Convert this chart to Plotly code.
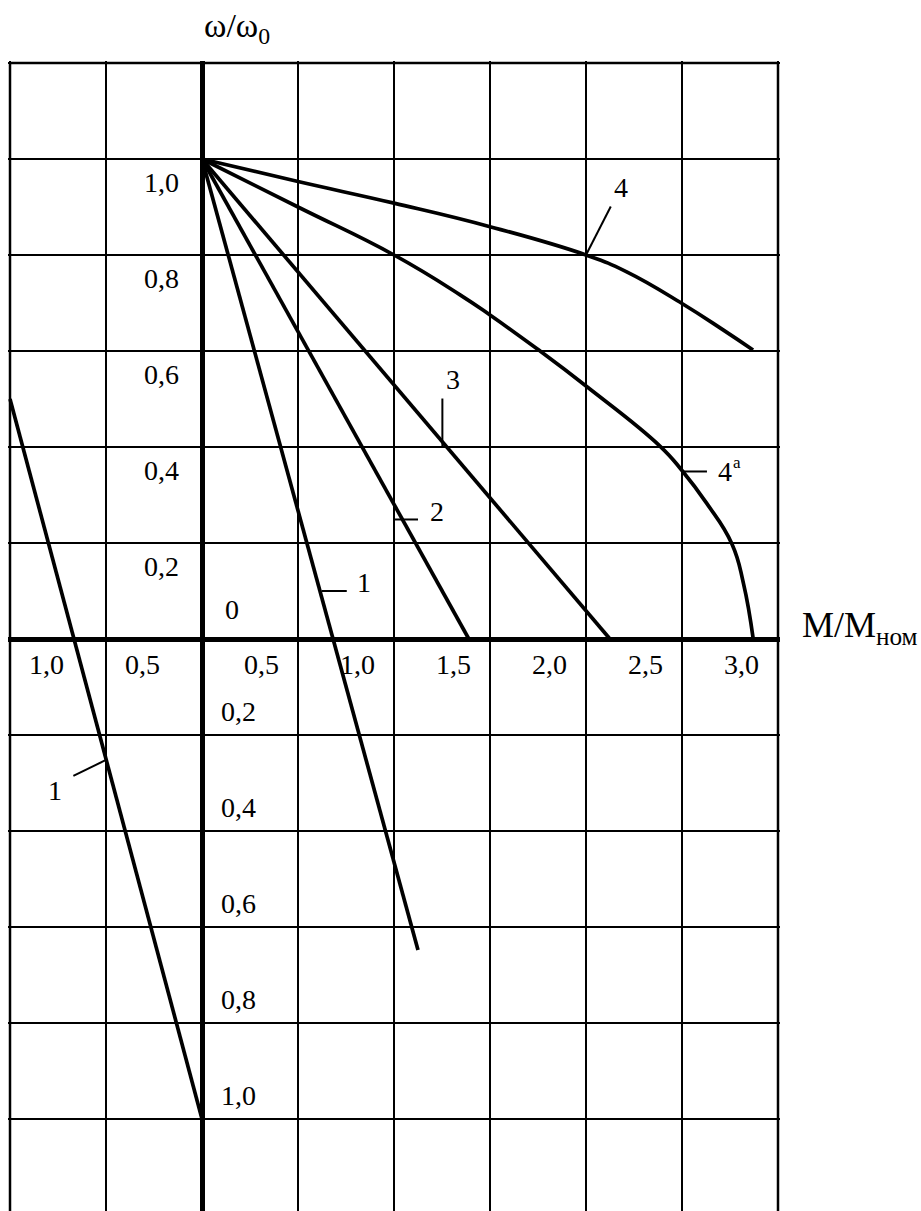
import plotly.graph_objects as go

# ---------------- data (M/Mном, ω/ω0) ----------------
line1_m = [0.0, 1.125]
line1_w = [1.0, -0.648]

line1_left_m = [-1.0, 0.0]
line1_left_w = [0.5, -1.0]

line2_m = [0.0, 1.39]
line2_w = [1.0, 0.0]

line3_m = [0.0, 2.125]
line3_w = [1.0, 0.0]

curve4_m = [0.0, 0.5, 1.0, 1.5, 2.0, 2.212, 2.5, 2.714, 2.87]
curve4_w = [1.0, 0.953, 0.908, 0.859, 0.8, 0.765, 0.699, 0.644, 0.602]

curve4a_m = [0.0, 0.5, 1.0, 1.344, 1.5, 1.743, 2.0, 2.385, 2.5, 2.628, 2.759, 2.82, 2.871]
curve4a_w = [1.0, 0.9, 0.8, 0.717, 0.675, 0.605, 0.527, 0.402, 0.351, 0.283, 0.199, 0.116, 0.0]

x_tick_vals = [-1.0, -0.5, 0.5, 1.0, 1.5, 2.0, 2.5, 3.0]
x_tick_text = ["1,0", "0,5", "0,5", "1,0", "1,5", "2,0", "2,5", "3,0"]

y_pos_tick_vals = [1.0, 0.8, 0.6, 0.4, 0.2]
y_pos_tick_text = ["1,0", "0,8", "0,6", "0,4", "0,2"]

y_neg_tick_vals = [-0.2, -0.4, -0.6, -0.8, -1.0]
y_neg_tick_text = ["0,2", "0,4", "0,6", "0,8", "1,0"]

# curve labels: text, label position, leader line start/end
callout_text = ["4", "3", "2", "1", "1", "4"]
callout_m = [2.182, 1.307, 1.222, 0.846, -0.766, 2.724]
callout_w = [0.94, 0.54, 0.265, 0.117, -0.315, 0.35]
leader_m0 = [2.0, 1.252, 1.005, 0.623, -0.670, 2.5]
leader_w0 = [0.8, 0.501, 0.249, 0.1, -0.285, 0.349]
leader_m1 = [2.129, 1.252, 1.125, 0.754, -0.5, 2.63]
leader_w1 = [0.901, 0.40, 0.249, 0.1, -0.252, 0.349]

# ---------------- layout geometry ----------------
M_MIN, M_MAX = -1.0, 3.0
W_TOP = 1.2
PX_PER_M = 192.0
PX_PER_W = 480.0
W, H = 921, 1211
ML, MR, MT, MB = 8, 141, 61, 0
PLOT_W = W - ML - MR
PLOT_H = H - MT - MB
pad_m = 2 / PX_PER_M
pad_w = 2 / PX_PER_W
y_top = W_TOP + pad_w
y_bot = y_top - PLOT_H / PX_PER_W

FONT = "Liberation Serif, Times New Roman, serif"
BLACK = "#000000"

fig = go.Figure()

for m, w, shape in [
    (line1_m, line1_w, "linear"),
    (line1_left_m, line1_left_w, "linear"),
    (line2_m, line2_w, "linear"),
    (line3_m, line3_w, "linear"),
    (curve4_m, curve4_w, "spline"),
    (curve4a_m, curve4a_w, "spline"),
]:
    fig.add_trace(go.Scatter(x=m, y=w, mode="lines",
                             line=dict(color=BLACK, width=3.7, shape=shape, smoothing=1.3),
                             hoverinfo="skip", showlegend=False))

annotations = []
lab_font = dict(family=FONT, size=28, color=BLACK)
# x tick labels (inside the cell, toward origin)
for v, t in zip(x_tick_vals, x_tick_text):
    xpos = v + 0.19 if v < 0 else v - 0.19
    annotations.append(dict(x=xpos, y=-0.054, text=t, showarrow=False,
                            xanchor="center", yanchor="middle", font=lab_font))
# positive y tick labels
for v, t in zip(y_pos_tick_vals, y_pos_tick_text):
    annotations.append(dict(x=-0.21, y=v - 0.048, text=t, showarrow=False,
                            xanchor="center", yanchor="middle", font=lab_font))
# negative y tick labels
for v, t in zip(y_neg_tick_vals, y_neg_tick_text):
    annotations.append(dict(x=0.19, y=v + 0.05, text=t, showarrow=False,
                            xanchor="center", yanchor="middle", font=lab_font))
# origin label
annotations.append(dict(x=0.156, y=0.0625, text="0", showarrow=False,
                        xanchor="center", yanchor="middle", font=lab_font))
# curve labels
for t, m, w in zip(callout_text, callout_m, callout_w):
    annotations.append(dict(x=m, y=w, text=t, showarrow=False,
                            xanchor="center", yanchor="middle", font=lab_font))
annotations.append(dict(x=2.784, y=0.368, text="а", showarrow=False,
                        xanchor="center", yanchor="middle",
                        font=dict(family=FONT, size=17, color=BLACK)))
# axis titles (outside the plotting area)
annotations.append(dict(xref="x", yref="paper", x=0.0, y=1 + (MT - 27.5) / PLOT_H,
                        text="ω/ω<sub>0</sub>", showarrow=False,
                        xanchor="left", yanchor="middle",
                        font=dict(family=FONT, size=34, color=BLACK)))
annotations.append(dict(xref="paper", yref="y", x=(800 - ML) / PLOT_W, y=0.025,
                        text="M/M<sub>ном</sub>", showarrow=False,
                        xanchor="left", yanchor="middle",
                        font=dict(family=FONT, size=36, color=BLACK)))

shapes = []
border = dict(color=BLACK, width=2.5)
shapes.append(dict(type="line", x0=M_MIN, x1=M_MIN, y0=y_bot, y1=W_TOP, line=border, layer="below"))
shapes.append(dict(type="line", x0=M_MAX, x1=M_MAX, y0=y_bot, y1=W_TOP, line=border, layer="below"))
shapes.append(dict(type="line", x0=M_MIN, x1=M_MAX, y0=W_TOP, y1=W_TOP, line=border, layer="below"))
for a, b, c, d in zip(leader_m0, leader_w0, leader_m1, leader_w1):
    shapes.append(dict(type="line", x0=a, y0=b, x1=c, y1=d, line=dict(color=BLACK, width=2)))

fig.update_layout(
    width=W, height=H,
    margin=dict(l=ML, r=MR, t=MT, b=MB, pad=0),
    paper_bgcolor="white", plot_bgcolor="white",
    showlegend=False,
    annotations=annotations,
    shapes=shapes,
    xaxis=dict(range=[M_MIN - pad_m, M_MAX + pad_m], tickmode="linear", tick0=M_MIN, dtick=0.5,
               showgrid=True, gridcolor=BLACK, gridwidth=2,
               zeroline=True, zerolinecolor=BLACK, zerolinewidth=4.5,
               showticklabels=False, ticks="", showline=False, fixedrange=True),
    yaxis=dict(range=[y_bot, y_top], tickmode="linear", tick0=0.0, dtick=0.2,
               showgrid=True, gridcolor=BLACK, gridwidth=2,
               zeroline=True, zerolinecolor=BLACK, zerolinewidth=4.5,
               showticklabels=False, ticks="", showline=False, fixedrange=True),
)

fig.write_html("out.html", config={"displayModeBar": False},
               post_script="document.body.style.margin='0';document.body.style.overflow='hidden';")
